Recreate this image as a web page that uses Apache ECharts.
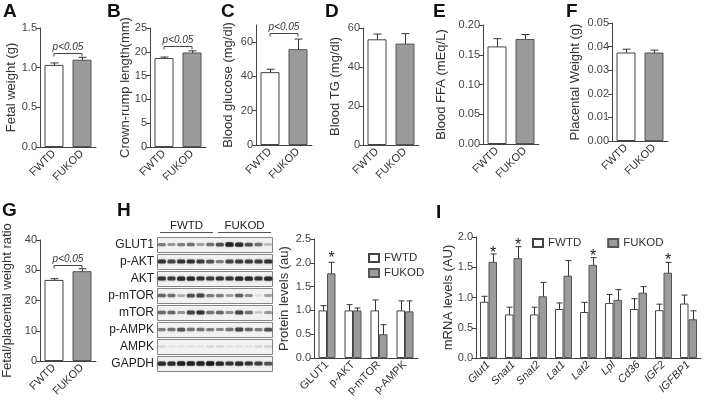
<!DOCTYPE html>
<html>
<head>
<meta charset="utf-8">
<script src="https://cdn.jsdelivr.net/npm/echarts@6/dist/echarts.min.js"></script>
<style>
  html, body { margin: 0; background: #fff; }
  #chart { width: 704px; height: 401px; }
</style>
</head>
<body>
<div id="chart"></div>
<script>
// ---- data ----
const groups = ['FWTD', 'FUKOD'];

const fetalWeight = [1.035, 1.10];
const fetalWeightSem = [[1.01, 1.06], [1.07, 1.13]];
const crownRump = [18.7, 19.85];
const crownRumpSem = [[18.45, 18.9], [19.5, 20.2]];
const bloodGlucose = [42.5, 55.9];
const bloodGlucoseSem = [[40.5, 44.2], [49.7, 61.8]];
const bloodTG = [54.2, 52.0];
const bloodTGSem = [[51.5, 56.9], [46.9, 57.1]];
const bloodFFA = [0.164, 0.1765];
const bloodFFASem = [[0.151, 0.177], [0.170, 0.184]];
const placentalWeight = [0.0375, 0.0375];
const placentalWeightSem = [[0.0361, 0.0389], [0.0364, 0.0385]];
const fpRatio = [26.8, 29.7];
const fpRatioSem = [[26.4, 27.2], [28.95, 30.5]];

// height of the p<0.05 brackets (A, B, C, G)
const bracketA = 1.19;
const bracketB = 21.3;
const bracketC = 65.5;
const bracketG = 31.9;

const blotRows = ['GLUT1', 'p-AKT', 'AKT', 'p-mTOR', 'mTOR', 'p-AMPK', 'AMPK', 'GAPDH'];
const blotLanes = ['1', '2', '3', '4', '5', '6', '7', '8', '9', '10', '11', '12'];
const blotGroups = [['FWTD', 0, 5], ['FUKOD', 6, 11]];
const bandIntensity = [
  [0.5, 0.4, 0.5, 0.55, 0.35, 0.55, 0.7, 0.95, 0.9, 0.7, 0.55, 0.25],
  [0.85, 0.75, 0.85, 0.85, 0.8, 0.7, 0.5, 0.75, 0.8, 0.8, 0.8, 0.85],
  [0.85, 0.8, 0.9, 0.9, 0.85, 0.8, 0.85, 0.85, 0.9, 0.9, 0.85, 0.9],
  [0.6, 0.55, 0.3, 0.7, 0.75, 0.5, 0.5, 0.35, 0.65, 0.45, 0.1, 0.35],
  [0.6, 0.6, 0.4, 0.75, 0.85, 0.55, 0.6, 0.45, 0.75, 0.55, 0.2, 0.4],
  [0.5, 0.55, 0.7, 0.55, 0.55, 0.5, 0.45, 0.55, 0.75, 0.6, 0.5, 0.7],
  [0.12, 0.08, 0.08, 0.08, 0.08, 0.12, 0.12, 0.08, 0.08, 0.08, 0.12, 0.15],
  [0.9, 0.9, 0.95, 0.95, 0.95, 1.0, 0.9, 0.85, 0.9, 0.85, 0.8, 0.7]
];

const proteinCats = ['GLUT1', 'p-AKT', 'p-mTOR', 'p-AMPK'];
const proteinWT = [1.0, 1.0, 1.0, 1.0];
const proteinWTSem = [[0.9, 1.1], [0.88, 1.12], [0.78, 1.22], [0.8, 1.2]];
const proteinKO = [1.78, 1.0, 0.5, 0.98];
const proteinKOSem = [[1.57, 2.01], [0.95, 1.05], [0.3, 0.7], [0.78, 1.2]];
const proteinStars = [[0, 2.18]];

const genes = ['Glut1', 'Snat1', 'Snat2', 'Lat1', 'Lat2', 'Lpl', 'Cd36', 'IGF2', 'IGFBP1'];
const mrnaWT = [0.93, 0.72, 0.72, 0.81, 0.76, 0.91, 0.81, 0.79, 0.9];
const mrnaWTSem = [[0.84, 1.02], [0.6, 0.84], [0.6, 0.84], [0.72, 0.91], [0.6, 0.92], [0.76, 1.05], [0.63, 0.98], [0.68, 0.89], [0.75, 1.04]];
const mrnaKO = [1.59, 1.65, 1.02, 1.36, 1.54, 0.96, 1.08, 1.41, 0.64];
const mrnaKOSem = [[1.45, 1.72], [1.44, 1.84], [0.8, 1.25], [1.12, 1.61], [1.42, 1.66], [0.8, 1.13], [0.97, 1.18], [1.24, 1.58], [0.48, 0.78]];
const mrnaStars = [[0, 1.8], [1, 1.92], [4, 1.75], [7, 1.67]];

// ---- styles ----
const font = 'Liberation Sans, Arial, Helvetica, sans-serif';
const ink = '#333';
const axisColor = '#444';
const wtStyle = { color: '#fff', borderColor: '#444', borderWidth: 1 };
const koStyle = { color: '#9b9b9b', borderColor: '#555', borderWidth: 1 };

const chart = echarts.init(document.getElementById('chart'));

const grids = [
  { left: 40, top: 28, width: 56, height: 119 },   // A
  { left: 150, top: 28, width: 56, height: 119 },  // B
  { left: 256, top: 25, width: 56, height: 120 },  // C
  { left: 363, top: 28, width: 56, height: 117 },  // D
  { left: 483, top: 25, width: 56, height: 119 },  // E
  { left: 612, top: 23, width: 56, height: 118 },  // F
  { left: 40, top: 240, width: 56, height: 121 },  // G
  { left: 157, top: 236, width: 116, height: 136 },// H blot
  { left: 314, top: 239, width: 104, height: 119 },// H bars
  { left: 476, top: 237, width: 225, height: 121 } // I
].map(g => Object.assign({ outerBoundsMode: 'none', containLabel: false }, g));

function catAxis(grid, data, italic) {
  return {
    type: 'category', gridIndex: grid, data,
    axisLine: { lineStyle: { color: axisColor } },
    axisTick: { alignWithLabel: true, length: 4, lineStyle: { color: axisColor } },
    axisLabel: {
      rotate: 45, fontSize: 11, color: ink, margin: 5, interval: 0,
      fontStyle: italic ? 'italic' : 'normal'
    }
  };
}

function valAxis(grid, name, max, interval, digits, nameGap, custom) {
  const ax = {
    type: 'value', gridIndex: grid, min: 0, max,
    name, nameLocation: 'middle', nameGap, nameMoveOverlap: false,
    nameTextStyle: { fontSize: 13, color: ink },
    axisLine: { show: true, lineStyle: { color: axisColor } },
    axisTick: { show: true, length: 4, lineStyle: { color: axisColor } },
    axisLabel: { fontSize: 11, color: '#444', margin: 3, formatter: v => v.toFixed(digits) },
    splitLine: { show: false }
  };
  if (custom) {
    ax.axisTick.customValues = custom;
    ax.axisLabel.customValues = custom;
  } else {
    ax.interval = interval;
  }
  return ax;
}

function errRender(offset, cap) {
  return function (params, api) {
    const x = api.value(0);
    const lo = api.coord([x, api.value(1)]);
    const hi = api.coord([x, api.value(2)]);
    const cx = Math.round(lo[0] + offset) + 0.5;
    const st = { stroke: '#333', lineWidth: 1 };
    return {
      type: 'group',
      children: [
        { type: 'line', shape: { x1: cx, y1: lo[1], x2: cx, y2: hi[1] }, style: st },
        { type: 'line', shape: { x1: cx - cap, y1: hi[1], x2: cx + cap, y2: hi[1] }, style: st },
        { type: 'line', shape: { x1: cx - cap, y1: lo[1], x2: cx + cap, y2: lo[1] }, style: st }
      ]
    };
  };
}

function bracketRender(params, api) {
  const a = api.coord([api.value(0), api.value(2)]);
  const b = api.coord([api.value(1), api.value(2)]);
  const y = Math.round(a[1]) + 0.5;
  return {
    type: 'group',
    children: [
      {
        type: 'polyline',
        shape: { points: [[a[0], y + 3], [a[0], y], [b[0], y], [b[0], y + 3]] },
        style: { stroke: '#444', fill: null, lineWidth: 1 }
      },
      {
        type: 'text', x: (a[0] + b[0]) / 2, y: y - 1,
        style: { text: 'p<0.05', fontSize: 10, fontStyle: 'italic', fontFamily: font, fill: ink, align: 'center', verticalAlign: 'bottom' }
      }
    ]
  };
}

function starRender(offset) {
  return function (params, api) {
    const c = api.coord([api.value(0), api.value(1)]);
    return {
      type: 'text', x: c[0] + offset, y: c[1] + 4,
      style: { text: '*', fontSize: 16, fontFamily: font, fill: '#222', align: 'center', verticalAlign: 'middle' }
    };
  };
}

const xAxes = [];
const yAxes = [];
const series = [];

// simple two-bar panels A-G
const simplePanels = [
  [0, fetalWeight, fetalWeightSem, 'Fetal weight (g)', 1.5, 0.5, 1, 22, null, bracketA],
  [1, crownRump, crownRumpSem, 'Crown-rump length(mm)', 25, 5, 0, 18, null, bracketB],
  [2, bloodGlucose, bloodGlucoseSem, 'Blood glucose (mg/dl)', 70, 20, 0, 21, [0, 20, 40, 60], bracketC],
  [3, bloodTG, bloodTGSem, 'Blood TG (mg/dl)', 60, 20, 0, 21, null, null],
  [4, bloodFFA, bloodFFASem, 'Blood FFA (mEq/L)', 0.2, 0.05, 2, 35, null, null],
  [5, placentalWeight, placentalWeightSem, 'Placental Weight (g)', 0.05, 0.01, 2, 30, null, null],
  [6, fpRatio, fpRatioSem, 'Fetal/placental weight ratio', 40, 10, 0, 26, null, bracketG]
];

simplePanels.forEach(([g, vals, sem, name, max, interval, digits, gap, custom, bracket]) => {
  xAxes.push(catAxis(g, groups));
  yAxes.push(valAxis(g, name, max, interval, digits, gap, custom));
  const axisIdx = xAxes.length - 1;
  series.push({
    type: 'bar', xAxisIndex: axisIdx, yAxisIndex: axisIdx, barWidth: 19, silent: true,
    data: vals.map((v, i) => ({ value: v, itemStyle: i === 0 ? wtStyle : koStyle }))
  });
  series.push({
    type: 'custom', xAxisIndex: axisIdx, yAxisIndex: axisIdx, silent: true,
    renderItem: errRender(0, 4), data: sem.map((e, i) => [i, e[0], e[1]])
  });
  if (bracket !== null) {
    series.push({
      type: 'custom', xAxisIndex: axisIdx, yAxisIndex: axisIdx, silent: true,
      renderItem: bracketRender, data: [[0, 1, bracket]]
    });
  }
});

// H: western blot
xAxes.push({ type: 'category', gridIndex: 7, data: blotLanes, show: false });
yAxes.push({
  type: 'category', gridIndex: 7, data: blotRows, inverse: true,
  axisLine: { show: false }, axisTick: { show: false },
  axisLabel: { fontSize: 12, color: '#222', margin: 3 }
});
const blotIdx = xAxes.length - 1;
series.push({
  type: 'custom', xAxisIndex: blotIdx, yAxisIndex: blotIdx, silent: true,
  data: blotRows.map((r, i) => [0, i, blotLanes.length - 1]),
  renderItem(params, api) {
    const c0 = api.coord([api.value(0), api.value(1)]);
    const c1 = api.coord([api.value(2), api.value(1)]);
    const s = api.size([1, 1]);
    return {
      type: 'rect',
      shape: { x: c0[0] - s[0] / 2 + 0.5, y: Math.round(c0[1] - s[1] / 2) + 1.5, width: c1[0] - c0[0] + s[0] - 1, height: s[1] - 2 },
      style: { fill: '#f2f2f2', stroke: '#858585', lineWidth: 1 }
    };
  }
});
const bandData = [];
bandIntensity.forEach((row, r) => row.forEach((v, l) => bandData.push([l, r, v])));
series.push({
  type: 'custom', xAxisIndex: blotIdx, yAxisIndex: blotIdx, silent: true,
  data: bandData,
  renderItem(params, api) {
    const c = api.coord([api.value(0), api.value(1)]);
    const s = api.size([1, 1]);
    const v = api.value(2);
    const h = 2 + 2.5 * v;
    return {
      type: 'rect',
      shape: { x: c[0] - s[0] * 0.42, y: c[1] - h / 2, width: s[0] * 0.84, height: h, r: 1.5 },
      style: { fill: 'rgba(20,20,20,' + (v * 0.95) + ')', shadowBlur: 2.5, shadowColor: 'rgba(20,20,20,' + (v * 0.5) + ')' }
    };
  }
});
series.push({
  type: 'custom', xAxisIndex: blotIdx, yAxisIndex: blotIdx, silent: true,
  data: blotGroups.map(g => [g[1], 0, g[2]]),
  renderItem(params, api) {
    const c0 = api.coord([api.value(0), 0]);
    const c1 = api.coord([api.value(2), 0]);
    const s = api.size([1, 1]);
    const y = Math.round(c0[1] - s[1] / 2) - 3.5;
    const x0 = c0[0] - s[0] / 2 + 3;
    const x1 = c1[0] + s[0] / 2 - 2;
    return {
      type: 'group',
      children: [
        { type: 'line', shape: { x1: x0, y1: y, x2: x1, y2: y }, style: { stroke: '#555', lineWidth: 1 } },
        {
          type: 'text', x: (x0 + x1) / 2, y: y - 1,
          style: { text: blotGroups[params.dataIndex][0], fontSize: 11.5, fontFamily: font, fill: '#222', align: 'center', verticalAlign: 'bottom' }
        }
      ]
    };
  }
});

// grouped panels: H bars and I
function groupedPanel(g, cats, italic, name, max, gap, wt, wtSem, ko, koSem, stars) {
  xAxes.push(catAxis(g, cats, italic));
  yAxes.push(valAxis(g, name, max, 0.5, 1, gap, null));
  const idx = xAxes.length - 1;
  series.push({ type: 'bar', name: 'FWTD', xAxisIndex: idx, yAxisIndex: idx, barWidth: 8.5, barGap: '0%', silent: true, itemStyle: wtStyle, data: wt });
  series.push({ type: 'bar', name: 'FUKOD', xAxisIndex: idx, yAxisIndex: idx, barWidth: 8.5, barGap: '0%', silent: true, itemStyle: koStyle, data: ko });
  series.push({ type: 'custom', xAxisIndex: idx, yAxisIndex: idx, silent: true, renderItem: errRender(-4.5, 3), data: wtSem.map((e, i) => [i, e[0], e[1]]) });
  series.push({ type: 'custom', xAxisIndex: idx, yAxisIndex: idx, silent: true, renderItem: errRender(4, 3), data: koSem.map((e, i) => [i, e[0], e[1]]) });
  series.push({ type: 'custom', xAxisIndex: idx, yAxisIndex: idx, silent: true, renderItem: starRender(4.5), data: stars });
}
groupedPanel(8, proteinCats, false, 'Protein levels (au)', 2.5, 23, proteinWT, proteinWTSem, proteinKO, proteinKOSem, proteinStars);
groupedPanel(9, genes, true, 'mRNA levels (AU)', 2, 21, mrnaWT, mrnaWTSem, mrnaKO, mrnaKOSem, mrnaStars);

const letters = [['A', 3, 2], ['B', 107, 2], ['C', 221, 2], ['D', 325, 2], ['E', 433, 2], ['F', 566, 2], ['G', 2, 201], ['H', 117, 201], ['I', 436, 203]];

const legendBase = {
  data: groups, icon: 'rect', itemWidth: 10, itemHeight: 8,
  textStyle: { fontSize: 11.5, color: ink }, selectedMode: false
};

chart.setOption({
  animation: false,
  textStyle: { fontFamily: font },
  title: letters.map(([t, x, y]) => ({
    text: t, left: x, top: y, padding: 0,
    textStyle: { fontSize: 19, fontWeight: 'bold', color: '#111', fontFamily: font }
  })),
  legend: [
    Object.assign({}, legendBase, { orient: 'vertical', left: 368, top: 252, itemGap: 3, padding: 0 }),
    Object.assign({}, legendBase, { orient: 'horizontal', left: 532, top: 237, itemGap: 26, padding: 0 })
  ],
  grid: grids,
  xAxis: xAxes,
  yAxis: yAxes,
  series
});
</script>
</body>
</html>
